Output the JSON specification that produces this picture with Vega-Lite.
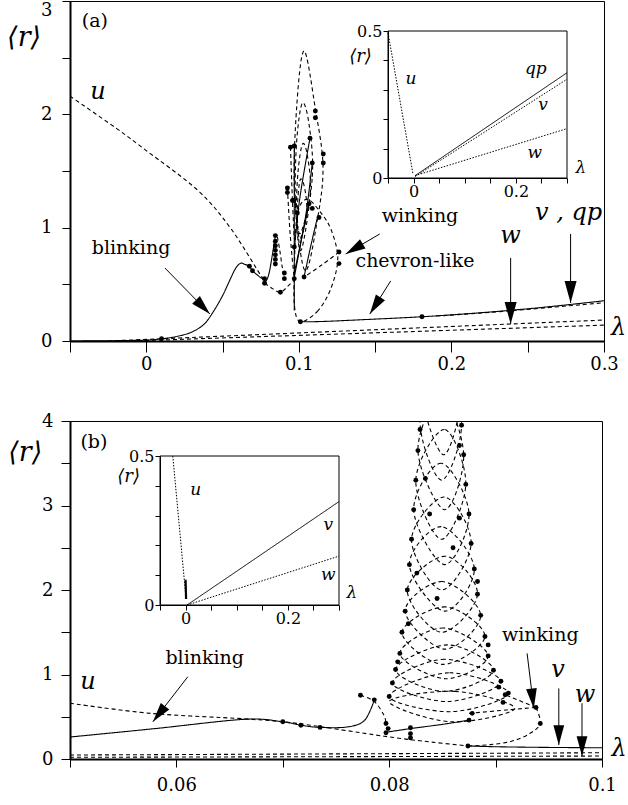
{
"$schema": "https://vega.github.io/schema/vega-lite/v6.json",
"background": "white",
"padding": {"left": 6, "top": 0, "right": 0, "bottom": 0},
"bounds": "flush",
"spacing": 80,
"config": {
  "view": {"stroke": "black", "strokeWidth": 1},
  "axis": {"labelFont": "DejaVu Serif", "labelColor": "black", "domainColor": "black", "tickColor": "black", "grid": false, "labelOverlap": false, "labelFlush": false},
  "text": {"font": "DejaVu Serif", "color": "black"}
},
"datasets": {
  "a_lines": [
    {"s":"sol1","k":"stable","o":0,"x":-0.05,"y":0.0},
    {"s":"sol1","k":"stable","o":1,"x":-0.02,"y":0.003},
    {"s":"sol1","k":"stable","o":2,"x":0.0,"y":0.008},
    {"s":"sol1","k":"stable","o":3,"x":0.01,"y":0.02},
    {"s":"sol1","k":"stable","o":4,"x":0.02,"y":0.04},
    {"s":"sol1","k":"stable","o":5,"x":0.03,"y":0.08},
    {"s":"sol1","k":"stable","o":6,"x":0.038,"y":0.15},
    {"s":"sol1","k":"stable","o":7,"x":0.044,"y":0.26},
    {"s":"sol1","k":"stable","o":8,"x":0.05,"y":0.4},
    {"s":"sol1","k":"stable","o":9,"x":0.0552,"y":0.55},
    {"s":"sol1","k":"stable","o":10,"x":0.0585,"y":0.64},
    {"s":"sol1","k":"stable","o":11,"x":0.0618,"y":0.686},
    {"s":"sol1","k":"stable","o":12,"x":0.0648,"y":0.675},
    {"s":"sol1","k":"stable","o":13,"x":0.0676,"y":0.66},
    {"s":"sol1","k":"stable","o":14,"x":0.0696,"y":0.62},
    {"s":"sol1","k":"stable","o":15,"x":0.073,"y":0.58},
    {"s":"sol1","k":"stable","o":16,"x":0.0765,"y":0.545},
    {"s":"sol1","k":"stable","o":17,"x":0.0785,"y":0.53},
    {"s":"sol1","k":"stable","o":18,"x":0.0805,"y":0.6},
    {"s":"sol1","k":"stable","o":19,"x":0.0825,"y":0.75},
    {"s":"sol1","k":"stable","o":20,"x":0.0846,"y":0.93},
    {"s":"u","k":"unstable","o":0,"x":-0.05,"y":2.16},
    {"s":"u","k":"unstable","o":1,"x":-0.02,"y":1.88},
    {"s":"u","k":"unstable","o":2,"x":0.0,"y":1.68},
    {"s":"u","k":"unstable","o":3,"x":0.0337,"y":1.33},
    {"s":"u","k":"unstable","o":4,"x":0.055,"y":1.0},
    {"s":"u","k":"unstable","o":5,"x":0.075,"y":0.58},
    {"s":"u","k":"unstable","o":6,"x":0.0785,"y":0.52},
    {"s":"d1","k":"unstable","o":0,"x":0.0775,"y":0.51},
    {"s":"d1","k":"unstable","o":1,"x":0.083,"y":0.46},
    {"s":"d1","k":"unstable","o":2,"x":0.0879,"y":0.43},
    {"s":"d1","k":"unstable","o":3,"x":0.0925,"y":0.48},
    {"s":"d1","k":"unstable","o":4,"x":0.097,"y":0.54},
    {"s":"d2","k":"unstable","o":0,"x":0.0859,"y":0.92},
    {"s":"d2","k":"unstable","o":1,"x":0.0875,"y":0.8},
    {"s":"d2","k":"unstable","o":2,"x":0.089,"y":0.66},
    {"s":"d2","k":"unstable","o":3,"x":0.0905,"y":0.55},
    {"s":"vert","k":"stable","o":0,"x":0.097,"y":1.74},
    {"s":"vert","k":"stable","o":1,"x":0.097,"y":0.27},
    {"s":"chev","k":"stable","o":0,"x":0.101,"y":0.17},
    {"s":"chev","k":"stable","o":1,"x":0.115,"y":0.172},
    {"s":"chev","k":"stable","o":2,"x":0.14,"y":0.187},
    {"s":"chev","k":"stable","o":3,"x":0.1807,"y":0.214},
    {"s":"chev","k":"stable","o":4,"x":0.22,"y":0.25},
    {"s":"chev","k":"stable","o":5,"x":0.26,"y":0.297},
    {"s":"chev","k":"stable","o":6,"x":0.3,"y":0.355},
    {"s":"vd","k":"unstable","o":0,"x":0.19,"y":0.22},
    {"s":"vd","k":"unstable","o":1,"x":0.24,"y":0.268},
    {"s":"vd","k":"unstable","o":2,"x":0.3,"y":0.338},
    {"s":"w1","k":"unstable","o":0,"x":-0.025,"y":0.0},
    {"s":"w1","k":"unstable","o":1,"x":0.3,"y":0.185},
    {"s":"w2","k":"unstable","o":0,"x":-0.01,"y":0.0},
    {"s":"w2","k":"unstable","o":1,"x":0.3,"y":0.14},
    {"s":"s2","k":"stable","o":0,"x":0.097,"y":0.56},
    {"s":"s2","k":"stable","o":1,"x":0.101,"y":0.85},
    {"s":"s2","k":"stable","o":2,"x":0.105,"y":1.15},
    {"s":"s2","k":"stable","o":3,"x":0.1088,"y":1.57},
    {"s":"s3","k":"stable","o":0,"x":0.1034,"y":0.565},
    {"s":"s3","k":"stable","o":1,"x":0.108,"y":0.85},
    {"s":"s3","k":"stable","o":2,"x":0.112,"y":1.08},
    {"s":"s4","k":"stable","o":0,"x":0.097,"y":0.8},
    {"s":"s4","k":"stable","o":1,"x":0.1005,"y":1.25},
    {"s":"s4","k":"stable","o":2,"x":0.1073,"y":1.79},
    {"s":"s5","k":"stable","o":0,"x":0.097,"y":0.6},
    {"s":"s5","k":"stable","o":1,"x":0.1067,"y":1.21},
    {"s":"d4","k":"unstable","o":0,"x":0.1263,"y":0.785},
    {"s":"d4","k":"unstable","o":1,"x":0.115,"y":0.67},
    {"s":"d4","k":"unstable","o":2,"x":0.1034,"y":0.565},
    {"s":"d5","k":"unstable","o":0,"x":0.0925,"y":1.35},
    {"s":"d5","k":"unstable","o":1,"x":0.094,"y":1.0},
    {"s":"d5","k":"unstable","o":2,"x":0.0955,"y":0.75},
    {"s":"d5","k":"unstable","o":3,"x":0.097,"y":0.55},
    {"s":"d6","k":"unstable","o":0,"x":0.0945,"y":1.71},
    {"s":"d6","k":"unstable","o":1,"x":0.0958,"y":1.24},
    {"s":"d6","k":"unstable","o":2,"x":0.097,"y":0.9}
  ],
  "a_loops": [
    {"s":"L1","o":0,"x":0.104,"y":0.62},
    {"s":"L1","o":1,"x":0.1125,"y":1.1},
    {"s":"L1","o":2,"x":0.1158,"y":1.55},
    {"s":"L1","o":3,"x":0.1108,"y":2.05},
    {"s":"L1","o":4,"x":0.1034,"y":2.56},
    {"s":"L1","o":5,"x":0.0985,"y":2.05},
    {"s":"L1","o":6,"x":0.0972,"y":1.3},
    {"s":"L2","o":0,"x":0.1015,"y":0.8},
    {"s":"L2","o":1,"x":0.1088,"y":1.45},
    {"s":"L2","o":2,"x":0.1068,"y":1.9},
    {"s":"L2","o":3,"x":0.1023,"y":2.1},
    {"s":"L2","o":4,"x":0.0985,"y":1.75},
    {"s":"L2","o":5,"x":0.0978,"y":1.2},
    {"s":"L3","o":0,"x":0.101,"y":0.95},
    {"s":"L3","o":1,"x":0.1075,"y":1.3},
    {"s":"L3","o":2,"x":0.1058,"y":1.62},
    {"s":"L3","o":3,"x":0.1025,"y":1.74},
    {"s":"L3","o":4,"x":0.0995,"y":1.5},
    {"s":"L3","o":5,"x":0.0985,"y":1.15},
    {"s":"L4","o":0,"x":0.1005,"y":0.9},
    {"s":"L4","o":1,"x":0.1052,"y":1.12},
    {"s":"L4","o":2,"x":0.1038,"y":1.35},
    {"s":"L4","o":3,"x":0.1008,"y":1.42},
    {"s":"L4","o":4,"x":0.099,"y":1.15},
    {"s":"W","o":0,"x":0.101,"y":0.17},
    {"s":"W","o":1,"x":0.112,"y":0.26},
    {"s":"W","o":2,"x":0.1206,"y":0.45},
    {"s":"W","o":3,"x":0.1255,"y":0.72},
    {"s":"W","o":4,"x":0.1215,"y":0.97},
    {"s":"W","o":5,"x":0.114,"y":1.14},
    {"s":"W","o":6,"x":0.105,"y":1.25},
    {"s":"W","o":7,"x":0.0988,"y":1.1},
    {"s":"W","o":8,"x":0.097,"y":0.6},
    {"s":"W","o":9,"x":0.0972,"y":0.3}
  ],
  "a_dots": [
    {"x":0.01,"y":0.02},{"x":0.0676,"y":0.66},{"x":0.0696,"y":0.62},{"x":0.0775,"y":0.55},{"x":0.0775,"y":0.51},{"x":0.0879,"y":0.43},
    {"x":0.0846,"y":0.93},{"x":0.0846,"y":0.88},{"x":0.0846,"y":0.84},{"x":0.0846,"y":0.8},{"x":0.0846,"y":0.76},{"x":0.0846,"y":0.72},{"x":0.0846,"y":0.68},
    {"x":0.0905,"y":0.6},{"x":0.0905,"y":0.55},{"x":0.097,"y":0.55},{"x":0.097,"y":1.72},{"x":0.0968,"y":1.24},{"x":0.099,"y":1.13},{"x":0.097,"y":0.83},
    {"x":0.0925,"y":1.35},{"x":0.0925,"y":1.31},{"x":0.0945,"y":1.71},{"x":0.0958,"y":1.24},{"x":0.1034,"y":0.565},
    {"x":0.1108,"y":2.03},{"x":0.1108,"y":1.97},{"x":0.1073,"y":1.79},{"x":0.1088,"y":1.57},{"x":0.116,"y":1.65},{"x":0.116,"y":1.57},
    {"x":0.1067,"y":1.21},{"x":0.1088,"y":1.17},{"x":0.1132,"y":1.09},{"x":0.1263,"y":0.785},{"x":0.1263,"y":0.683},
    {"x":0.101,"y":0.17},{"x":0.1807,"y":0.214}
  ],
  "a_arrows": [
    {"id":"blink","x":0.0417,"y":0.238,"x2":0.0122,"y2":0.644},
    {"id":"wink","x":0.1307,"y":0.768,"x2":0.153,"y2":0.944},
    {"id":"chev","x":0.1465,"y":0.238,"x2":0.1602,"y2":0.53},
    {"id":"w","x":0.2388,"y":0.15,"x2":0.2388,"y2":0.733},
    {"id":"vqp","x":0.2781,"y":0.335,"x2":0.2781,"y2":0.944}
  ],
  "a_text": [
    {"t":"(a)","x":-0.0337,"y":2.82},
    {"t":"blinking","x":-0.01,"y":0.82},
    {"t":"winking","x":0.1794,"y":1.1},
    {"t":"chevron-like","x":0.1761,"y":0.71}
  ],
  "a_math": [
    {"t":"u","x":-0.0317,"y":2.2},
    {"t":"w","x":0.2388,"y":0.93},
    {"t":"v , qp","x":0.2768,"y":1.13},
    {"t":"λ","x":0.3095,"y":0.115}
  ],
  "a_r": [{"t":"⟨r⟩","x":-0.0801,"y":2.67}],
  "a_inset_frame": [{"x":-0.05,"x2":0.3,"y":0,"y2":0.5}],
  "a_inset_lines": [
    {"s":"qp","k":"stable","o":0,"x":0.003,"y":0.008},
    {"s":"qp","k":"stable","o":1,"x":0.3,"y":0.358},
    {"s":"v","k":"dotted","o":0,"x":0.003,"y":0.005},
    {"s":"v","k":"dotted","o":1,"x":0.3,"y":0.336},
    {"s":"w","k":"dotted","o":0,"x":0.003,"y":0.008},
    {"s":"w","k":"dotted","o":1,"x":0.3,"y":0.168},
    {"s":"u","k":"dotted","o":0,"x":-0.05,"y":0.494},
    {"s":"u","k":"dotted","o":1,"x":-0.001,"y":0.012}
  ],
  "a_inset_text": [
    {"t":"u","x":-0.005,"y":0.336},
    {"t":"qp","x":0.239,"y":0.37},
    {"t":"v","x":0.253,"y":0.25},
    {"t":"w","x":0.237,"y":0.085},
    {"t":"λ","x":0.327,"y":0.034}
  ],
  "a_inset_r": [{"t":"⟨r⟩","x":-0.1038,"y":0.41}],
  "b_lines": [
    {"s":"s1","k":"stable","o":0,"x":0.05,"y":0.26},
    {"s":"s1","k":"stable","o":1,"x":0.058,"y":0.36},
    {"s":"s1","k":"stable","o":2,"x":0.0664,"y":0.47},
    {"s":"s1","k":"stable","o":3,"x":0.07,"y":0.44},
    {"s":"s1","k":"stable","o":4,"x":0.0717,"y":0.40},
    {"s":"s1","k":"stable","o":5,"x":0.0735,"y":0.374},
    {"s":"s1","k":"stable","o":6,"x":0.0761,"y":0.38},
    {"s":"s1","k":"stable","o":7,"x":0.0777,"y":0.46},
    {"s":"s1","k":"stable","o":8,"x":0.0786,"y":0.70},
    {"s":"u","k":"unstable","o":0,"x":0.05,"y":0.66},
    {"s":"u","k":"unstable","o":1,"x":0.0576,"y":0.54},
    {"s":"u","k":"unstable","o":2,"x":0.0664,"y":0.475},
    {"s":"u","k":"unstable","o":3,"x":0.0714,"y":0.42},
    {"s":"u","k":"unstable","o":4,"x":0.0795,"y":0.27},
    {"s":"u","k":"unstable","o":5,"x":0.084,"y":0.2},
    {"s":"u","k":"unstable","o":6,"x":0.0874,"y":0.155},
    {"s":"v","k":"stable","o":0,"x":0.0874,"y":0.155},
    {"s":"v","k":"stable","o":1,"x":0.09,"y":0.145},
    {"s":"v","k":"stable","o":2,"x":0.095,"y":0.137},
    {"s":"v","k":"stable","o":3,"x":0.1,"y":0.133},
    {"s":"w1","k":"unstable","o":0,"x":0.05,"y":0.047},
    {"s":"w1","k":"unstable","o":1,"x":0.1,"y":0.074},
    {"s":"w2","k":"unstable","o":0,"x":0.05,"y":0.02},
    {"s":"w2","k":"unstable","o":1,"x":0.1,"y":0.035},
    {"s":"s2","k":"stable","o":0,"x":0.0799,"y":0.32},
    {"s":"s2","k":"stable","o":1,"x":0.082,"y":0.36},
    {"s":"s2","k":"stable","o":2,"x":0.085,"y":0.41},
    {"s":"s2","k":"stable","o":3,"x":0.0875,"y":0.46},
    {"s":"d1","k":"unstable","o":0,"x":0.0773,"y":0.755},
    {"s":"d1","k":"unstable","o":1,"x":0.0786,"y":0.68},
    {"s":"d1","k":"unstable","o":2,"x":0.0795,"y":0.52},
    {"s":"d1","k":"unstable","o":3,"x":0.0797,"y":0.42},
    {"s":"d2","k":"unstable","o":0,"x":0.0875,"y":0.54},
    {"s":"d2","k":"unstable","o":1,"x":0.091,"y":0.58},
    {"s":"d2","k":"unstable","o":2,"x":0.0938,"y":0.61},
    {"s":"d3","k":"unstable","o":0,"x":0.0938,"y":0.61},
    {"s":"d3","k":"unstable","o":1,"x":0.0942,"y":0.42},
    {"s":"d3","k":"unstable","o":2,"x":0.0932,"y":0.3},
    {"s":"d3","k":"unstable","o":3,"x":0.0915,"y":0.21},
    {"s":"d3","k":"unstable","o":4,"x":0.0895,"y":0.17},
    {"s":"d3","k":"unstable","o":5,"x":0.0874,"y":0.153},
    {"s":"d4","k":"unstable","o":0,"x":0.0938,"y":0.61},
    {"s":"d4","k":"unstable","o":1,"x":0.0909,"y":0.76}
  ],
  "b_loops": [
    {"s":"E0","o":0,"x":0.0918,"y":0.60},{"s":"E0","o":1,"x":0.0862,"y":0.80},{"s":"E0","o":2,"x":0.0800,"y":0.68},{"s":"E0","o":3,"x":0.0858,"y":0.44},
    {"s":"E1","o":0,"x":0.0912,"y":0.78},{"s":"E1","o":1,"x":0.0856,"y":1.02},{"s":"E1","o":2,"x":0.0800,"y":0.74},{"s":"E1","o":3,"x":0.0858,"y":0.56},
    {"s":"E2","o":0,"x":0.0905,"y":0.92},{"s":"E2","o":1,"x":0.0852,"y":1.18},{"s":"E2","o":2,"x":0.0803,"y":0.90},{"s":"E2","o":3,"x":0.0855,"y":0.68},
    {"s":"E3","o":0,"x":0.0898,"y":1.05},{"s":"E3","o":1,"x":0.0855,"y":1.35},{"s":"E3","o":2,"x":0.0806,"y":1.06},{"s":"E3","o":3,"x":0.0852,"y":0.80},
    {"s":"E4","o":0,"x":0.0893,"y":1.22},{"s":"E4","o":1,"x":0.0851,"y":1.55},{"s":"E4","o":2,"x":0.0810,"y":1.25},{"s":"E4","o":3,"x":0.0853,"y":0.95},
    {"s":"E5","o":0,"x":0.0890,"y":1.45},{"s":"E5","o":1,"x":0.0853,"y":1.80},{"s":"E5","o":2,"x":0.0812,"y":1.50},{"s":"E5","o":3,"x":0.0850,"y":1.12},
    {"s":"E6","o":0,"x":0.0886,"y":1.70},{"s":"E6","o":1,"x":0.0850,"y":2.10},{"s":"E6","o":2,"x":0.0815,"y":1.75},{"s":"E6","o":3,"x":0.0852,"y":1.30},
    {"s":"E7","o":0,"x":0.0883,"y":1.95},{"s":"E7","o":1,"x":0.0853,"y":2.40},{"s":"E7","o":2,"x":0.0817,"y":2.00},{"s":"E7","o":3,"x":0.0849,"y":1.50},
    {"s":"E8","o":0,"x":0.0880,"y":2.25},{"s":"E8","o":1,"x":0.0849,"y":2.75},{"s":"E8","o":2,"x":0.0819,"y":2.30},{"s":"E8","o":3,"x":0.0852,"y":1.75},
    {"s":"E9","o":0,"x":0.0877,"y":2.55},{"s":"E9","o":1,"x":0.0852,"y":3.10},{"s":"E9","o":2,"x":0.0821,"y":2.60},{"s":"E9","o":3,"x":0.0849,"y":2.00},
    {"s":"E10","o":0,"x":0.0875,"y":2.90},{"s":"E10","o":1,"x":0.0849,"y":3.50},{"s":"E10","o":2,"x":0.0823,"y":2.95},{"s":"E10","o":3,"x":0.0852,"y":2.30},
    {"s":"E11","o":0,"x":0.0872,"y":3.25},{"s":"E11","o":1,"x":0.0852,"y":3.90},{"s":"E11","o":2,"x":0.0825,"y":3.30},{"s":"E11","o":3,"x":0.0849,"y":2.60},
    {"s":"E12","o":0,"x":0.0870,"y":3.60},{"s":"E12","o":1,"x":0.0849,"y":4.30},{"s":"E12","o":2,"x":0.0827,"y":3.65},{"s":"E12","o":3,"x":0.0852,"y":2.95},
    {"s":"E13","o":0,"x":0.0868,"y":3.95},{"s":"E13","o":1,"x":0.0851,"y":4.70},{"s":"E13","o":2,"x":0.0829,"y":4.00},{"s":"E13","o":3,"x":0.0849,"y":3.30},
    {"s":"E14","o":0,"x":0.0867,"y":4.30},{"s":"E14","o":1,"x":0.0850,"y":5.00},{"s":"E14","o":2,"x":0.0831,"y":4.35},{"s":"E14","o":3,"x":0.0851,"y":3.60}
  ],
  "b_dots": [
    {"x":0.07,"y":0.44},{"x":0.0717,"y":0.40},{"x":0.0735,"y":0.374},{"x":0.0786,"y":0.70},{"x":0.0773,"y":0.755},{"x":0.0797,"y":0.42},{"x":0.0797,"y":0.31},{"x":0.0799,"y":0.36},
    {"x":0.082,"y":0.37},{"x":0.082,"y":0.25},{"x":0.082,"y":0.3},{"x":0.0875,"y":0.46},{"x":0.0878,"y":0.54},{"x":0.0938,"y":0.61},{"x":0.0942,"y":0.42},{"x":0.0907,"y":0.67},{"x":0.0909,"y":0.76},{"x":0.0874,"y":0.153},
    {"x":0.0912,"y":0.78},{"x":0.0800,"y":0.74},{"x":0.0905,"y":0.92},{"x":0.0803,"y":0.90},{"x":0.0898,"y":1.05},{"x":0.0806,"y":1.06},{"x":0.0893,"y":1.22},{"x":0.0810,"y":1.25},
    {"x":0.0890,"y":1.45},{"x":0.0812,"y":1.50},{"x":0.0886,"y":1.70},{"x":0.0815,"y":1.75},{"x":0.0883,"y":1.95},{"x":0.0817,"y":2.00},{"x":0.0880,"y":2.25},{"x":0.0819,"y":2.30},
    {"x":0.0877,"y":2.55},{"x":0.0821,"y":2.60},{"x":0.0875,"y":2.90},{"x":0.0823,"y":2.95},{"x":0.0872,"y":3.25},{"x":0.0825,"y":3.30},{"x":0.0870,"y":3.60},{"x":0.0827,"y":3.65},
    {"x":0.0868,"y":3.95},{"x":0.0829,"y":3.9},{"x":0.0866,"y":3.71},{"x":0.0834,"y":3.32},{"x":0.0838,"y":2.9},{"x":0.0866,"y":2.85},{"x":0.0826,"y":2.2},{"x":0.0883,"y":2.1},
    {"x":0.0818,"y":1.6},{"x":0.0893,"y":1.35},{"x":0.0808,"y":1.15},{"x":0.0903,"y":0.85},{"x":0.0845,"y":1.9},{"x":0.086,"y":2.5}
  ],
  "b_arrows": [
    {"id":"blink","x":0.05779,"y":0.44,"x2":0.06107,"y2":0.973},
    {"id":"wink","x":0.09359,"y":0.6,"x2":0.09296,"y2":1.25},
    {"id":"v","x":0.09594,"y":0.165,"x2":0.09594,"y2":0.835},
    {"id":"w","x":0.09812,"y":0.035,"x2":0.09812,"y2":0.66}
  ],
  "b_text": [
    {"t":"(b)","x":0.05225,"y":3.75},
    {"t":"blinking","x":0.06266,"y":1.19},
    {"t":"winking","x":0.0942,"y":1.47}
  ],
  "b_math": [
    {"t":"u","x":0.0517,"y":0.91},
    {"t":"v","x":0.09587,"y":1.05},
    {"t":"w","x":0.0984,"y":0.76},
    {"t":"λ","x":0.1016,"y":0.12}
  ],
  "b_r": [{"t":"⟨r⟩","x":0.0458,"y":3.62}],
  "b_inset_frame": [{"x":-0.05,"x2":0.3,"y":0,"y2":0.5}],
  "b_inset_lines": [
    {"s":"v","k":"stable","o":0,"x":0.003,"y":0.0},
    {"s":"v","k":"stable","o":1,"x":0.3,"y":0.347},
    {"s":"w","k":"dotted","o":0,"x":0.003,"y":0.0},
    {"s":"w","k":"dotted","o":1,"x":0.3,"y":0.164},
    {"s":"u","k":"dotted","o":0,"x":-0.025,"y":0.5},
    {"s":"u","k":"dotted","o":1,"x":0.001,"y":0.02}
  ],
  "b_inset_thick": [
    {"s":"ut","o":0,"x":0.0,"y":0.085},
    {"s":"ut","o":1,"x":0.001,"y":0.02}
  ],
  "b_inset_text": [
    {"t":"u","x":0.02,"y":0.386},
    {"t":"v","x":0.279,"y":0.27},
    {"t":"w","x":0.279,"y":0.10},
    {"t":"λ","x":0.325,"y":0.04}
  ],
  "b_inset_r": [{"t":"⟨r⟩","x":-0.1114,"y":0.43}]
},
"vconcat": [
  {
    "width": 534, "height": 340,
    "layer": [
      {
        "encoding": {
          "x": {"field":"x","type":"quantitative","scale":{"domain":[-0.05,0.3],"nice":false,"zero":false},
                "axis":{"title":null,"values":[-0.05,0,0.05,0.1,0.15,0.2,0.25,0.3],"format":"~g","labelExpr":"indexof(['0','0.1','0.2','0.3'], datum.label) >= 0 ? datum.label : ''","domainWidth":2,"tickSize":11,"tickWidth":1,"labelPadding":3,"labelFontSize":18}},
          "y": {"field":"y","type":"quantitative","scale":{"domain":[0,3],"nice":false,"zero":false},
                "axis":{"title":null,"values":[0,0.5,1,1.5,2,2.5,3],"format":"~g","labelExpr":"datum.value % 1 == 0 ? datum.label : ''","domainWidth":2,"tickSize":8,"tickWidth":1,"labelPadding":10,"labelFontSize":18,"labelBaseline":{"condition":{"test":"datum.value == 3","value":"top"},"value":"middle"}}}
        },
        "layer": [
          {"data":{"name":"a_lines"},"mark":{"type":"line","interpolate":"cardinal","strokeWidth":1.1,"color":"black","clip":true},
           "encoding":{"detail":{"field":"s"},"order":{"field":"o"},"strokeDash":{"field":"k","type":"nominal","scale":{"domain":["stable","unstable","dotted"],"range":[[1,0],[4,3],[1.5,1.5]]},"legend":null}}},
          {"data":{"name":"a_loops"},"mark":{"type":"line","interpolate":"cardinal-closed","strokeWidth":1.1,"color":"black","strokeDash":[4,3],"clip":true},
           "encoding":{"detail":{"field":"s"},"order":{"field":"o"}}},
          {"data":{"name":"a_dots"},"mark":{"type":"point","filled":true,"shape":"circle","color":"black","size":24,"opacity":1}},
          {"data":{"name":"a_arrows"},"mark":{"type":"rule","color":"black","strokeWidth":1},"encoding":{"x2":{"field":"x2"},"y2":{"field":"y2"}}},
          {"data":{"name":"a_arrows"},"transform":[{"filter":"datum.id == 'w' || datum.id == 'vqp'"}],"mark":{"type":"point","shape":"M0,0L0.6,2.2L-0.6,2.2Z","filled":true,"color":"black","size":400,"opacity":1,"strokeWidth":0,"angle":180}},
          {"data":{"name":"a_arrows"},"transform":[{"filter":"datum.id == 'blink'"}],"mark":{"type":"point","shape":"M0,0L0.6,2.2L-0.6,2.2Z","filled":true,"color":"black","size":324,"opacity":1,"strokeWidth":0,"angle":135.6}},
          {"data":{"name":"a_arrows"},"transform":[{"filter":"datum.id == 'wink'"}],"mark":{"type":"point","shape":"M0,0L0.6,2.2L-0.6,2.2Z","filled":true,"color":"black","size":324,"opacity":1,"strokeWidth":0,"angle":239.5}},
          {"data":{"name":"a_arrows"},"transform":[{"filter":"datum.id == 'chev'"}],"mark":{"type":"point","shape":"M0,0L0.6,2.2L-0.6,2.2Z","filled":true,"color":"black","size":324,"opacity":1,"strokeWidth":0,"angle":212.5}},
          {"data":{"name":"a_text"},"mark":{"type":"text","fontSize":19,"align":"center","baseline":"middle"},"encoding":{"text":{"field":"t"}}},
          {"data":{"name":"a_math"},"mark":{"type":"text","fontStyle":"italic","fontSize":24,"align":"center","baseline":"middle"},"encoding":{"text":{"field":"t"}}},
          {"data":{"name":"a_r"},"mark":{"type":"text","fontStyle":"italic","fontSize":27,"align":"center","baseline":"middle"},"encoding":{"text":{"field":"t"}}}
        ]
      },
      {
        "encoding": {
          "x": {"field":"x","type":"quantitative","scale":{"domain":[-0.05,0.3],"range":[318,497],"nice":false,"zero":false},
                "axis":{"title":null,"orient":"bottom","offset":-163,"values":[-0.05,0,0.05,0.1,0.15,0.2,0.25,0.3],"format":"~g","labelExpr":"indexof(['0','0.2'], datum.label) >= 0 ? datum.label : ''","domainWidth":1,"tickSize":5,"labelPadding":0,"labelFontSize":16,"zindex":1}},
          "y": {"field":"y","type":"quantitative","scale":{"domain":[0,0.5],"range":[177,30],"nice":false,"zero":false},
                "axis":{"title":null,"orient":"left","offset":-318,"values":[0,0.1,0.2,0.3,0.4,0.5],"format":"~g","labelExpr":"indexof(['0','0.5'], datum.label) >= 0 ? datum.label : ''","domainWidth":1,"tickSize":5,"labelPadding":1,"labelFontSize":16,"zindex":1}}
        },
        "layer": [
          {"data":{"name":"a_inset_frame"},"mark":{"type":"rect","fill":"white","stroke":"black","strokeWidth":1},"encoding":{"x2":{"field":"x2"},"y2":{"field":"y2"}}},
          {"data":{"name":"a_inset_lines"},"mark":{"type":"line","strokeWidth":1,"color":"black","clip":false},
           "encoding":{"detail":{"field":"s"},"order":{"field":"o"},"strokeDash":{"field":"k","type":"nominal","scale":{"domain":["stable","unstable","dotted"],"range":[[1,0],[4,3],[1.5,1.5]]},"legend":null}}},
          {"data":{"name":"a_inset_text"},"mark":{"type":"text","fontStyle":"italic","fontSize":17,"align":"center","baseline":"middle"},"encoding":{"text":{"field":"t"}}},
          {"data":{"name":"a_inset_r"},"mark":{"type":"text","fontStyle":"italic","fontSize":18,"align":"center","baseline":"middle"},"encoding":{"text":{"field":"t"}}}
        ]
      }
    ],
    "resolve": {"scale":{"x":"independent","y":"independent"},"axis":{"x":"independent","y":"independent"}}
  },
  {
    "width": 532, "height": 338,
    "layer": [
      {
        "encoding": {
          "x": {"field":"x","type":"quantitative","scale":{"domain":[0.05,0.1],"nice":false,"zero":false},
                "axis":{"title":null,"values":[0.05,0.06,0.07,0.08,0.09,0.1],"format":"~g","labelExpr":"indexof(['0.06','0.08','0.1'], datum.label) >= 0 ? datum.label : ''","domainWidth":2,"tickSize":8,"tickWidth":1,"labelPadding":9,"labelFontSize":18}},
          "y": {"field":"y","type":"quantitative","scale":{"domain":[0,4],"nice":false,"zero":false},
                "axis":{"title":null,"values":[0,0.5,1,1.5,2,2.5,3,3.5,4],"format":"~g","labelExpr":"datum.value % 1 == 0 ? datum.label : ''","domainWidth":2,"tickSize":9,"tickWidth":1,"labelPadding":8,"labelFontSize":18}}
        },
        "layer": [
          {"data":{"name":"b_lines"},"mark":{"type":"line","interpolate":"cardinal","strokeWidth":1.1,"color":"black","clip":true},
           "encoding":{"detail":{"field":"s"},"order":{"field":"o"},"strokeDash":{"field":"k","type":"nominal","scale":{"domain":["stable","unstable","dotted"],"range":[[1,0],[4,3],[1.5,1.5]]},"legend":null}}},
          {"data":{"name":"b_loops"},"mark":{"type":"line","interpolate":"cardinal-closed","strokeWidth":1.1,"color":"black","strokeDash":[4,3],"clip":true},
           "encoding":{"detail":{"field":"s"},"order":{"field":"o"}}},
          {"data":{"name":"b_dots"},"mark":{"type":"point","filled":true,"shape":"circle","color":"black","size":24,"opacity":1}},
          {"data":{"name":"b_arrows"},"mark":{"type":"rule","color":"black","strokeWidth":1},"encoding":{"x2":{"field":"x2"},"y2":{"field":"y2"}}},
          {"data":{"name":"b_arrows"},"transform":[{"filter":"datum.id == 'v' || datum.id == 'w'"}],"mark":{"type":"point","shape":"M0,0L0.6,2.2L-0.6,2.2Z","filled":true,"color":"black","size":324,"opacity":1,"strokeWidth":0,"angle":180}},
          {"data":{"name":"b_arrows"},"transform":[{"filter":"datum.id == 'blink'"}],"mark":{"type":"point","shape":"M0,0L0.6,2.2L-0.6,2.2Z","filled":true,"color":"black","size":324,"opacity":1,"strokeWidth":0,"angle":217.9}},
          {"data":{"name":"b_arrows"},"transform":[{"filter":"datum.id == 'wink'"}],"mark":{"type":"point","shape":"M0,0L0.6,2.2L-0.6,2.2Z","filled":true,"color":"black","size":324,"opacity":1,"strokeWidth":0,"angle":173.1}},
          {"data":{"name":"b_text"},"mark":{"type":"text","fontSize":19,"align":"center","baseline":"middle"},"encoding":{"text":{"field":"t"}}},
          {"data":{"name":"b_math"},"mark":{"type":"text","fontStyle":"italic","fontSize":24,"align":"center","baseline":"middle"},"encoding":{"text":{"field":"t"}}},
          {"data":{"name":"b_r"},"mark":{"type":"text","fontStyle":"italic","fontSize":27,"align":"center","baseline":"middle"},"encoding":{"text":{"field":"t"}}}
        ]
      },
      {
        "encoding": {
          "x": {"field":"x","type":"quantitative","scale":{"domain":[-0.05,0.3],"range":[90,269],"nice":false,"zero":false},
                "axis":{"title":null,"orient":"bottom","offset":-154,"values":[-0.05,0,0.05,0.1,0.15,0.2,0.25,0.3],"format":"~g","labelExpr":"indexof(['0','0.2'], datum.label) >= 0 ? datum.label : ''","domainWidth":1,"tickSize":5,"labelPadding":0,"labelFontSize":16,"zindex":1}},
          "y": {"field":"y","type":"quantitative","scale":{"domain":[0,0.5],"range":[184,35],"nice":false,"zero":false},
                "axis":{"title":null,"orient":"left","offset":-90,"values":[0,0.1,0.2,0.3,0.4,0.5],"format":"~g","labelExpr":"indexof(['0','0.5'], datum.label) >= 0 ? datum.label : ''","domainWidth":1,"tickSize":5,"labelPadding":1,"labelFontSize":16,"zindex":1}}
        },
        "layer": [
          {"data":{"name":"b_inset_frame"},"mark":{"type":"rect","fill":"white","stroke":"black","strokeWidth":1},"encoding":{"x2":{"field":"x2"},"y2":{"field":"y2"}}},
          {"data":{"name":"b_inset_lines"},"mark":{"type":"line","strokeWidth":1,"color":"black","clip":false},
           "encoding":{"detail":{"field":"s"},"order":{"field":"o"},"strokeDash":{"field":"k","type":"nominal","scale":{"domain":["stable","unstable","dotted"],"range":[[1,0],[4,3],[1.5,1.5]]},"legend":null}}},
          {"data":{"name":"b_inset_thick"},"mark":{"type":"line","strokeWidth":2.2,"color":"black"},"encoding":{"order":{"field":"o"}}},
          {"data":{"name":"b_inset_text"},"mark":{"type":"text","fontStyle":"italic","fontSize":17,"align":"center","baseline":"middle"},"encoding":{"text":{"field":"t"}}},
          {"data":{"name":"b_inset_r"},"mark":{"type":"text","fontStyle":"italic","fontSize":18,"align":"center","baseline":"middle"},"encoding":{"text":{"field":"t"}}}
        ]
      }
    ],
    "resolve": {"scale":{"x":"independent","y":"independent"},"axis":{"x":"independent","y":"independent"}}
  }
]
}
